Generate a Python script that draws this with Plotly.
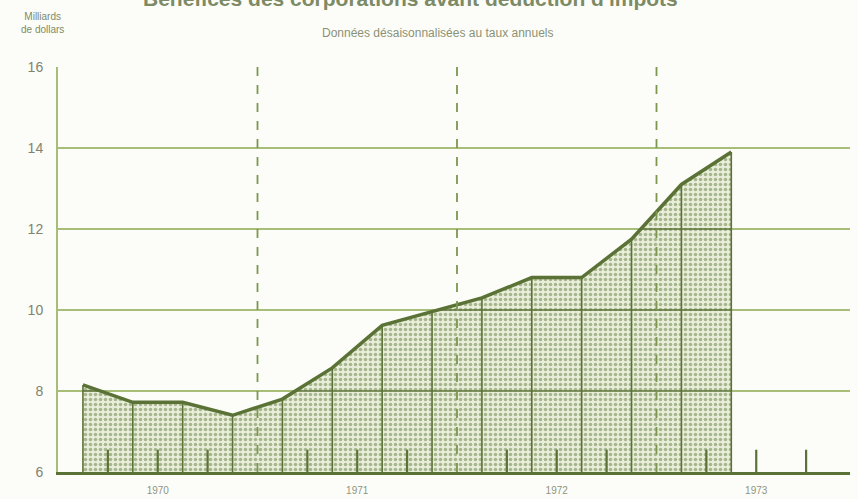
import plotly.graph_objects as go

# ---- data ----
quarters = ["1970 T1", "1970 T2", "1970 T3", "1970 T4",
            "1971 T1", "1971 T2", "1971 T3", "1971 T4",
            "1972 T1", "1972 T2", "1972 T3", "1972 T4",
            "1973 T1", "1973 T2"]
values = [8.15, 7.72, 7.72, 7.40, 7.80, 8.57, 9.62, 9.95,
          10.30, 10.80, 10.80, 11.75, 13.10, 13.90]
year_labels = ["1970", "1971", "1972", "1973"]
y_ticks = [6, 8, 10, 12, 14, 16]

DARK = "#5b7236"
GRID = "#a7bd78"
TEXT = "#8a9276"
BG = "#fcfdf8"


def qpos(label):
    y, q = label.split(" T")
    return int(y) + (int(q) - 0.5) / 4


xs = [qpos(q) for q in quarters]
years = [int(y) for y in year_labels]
base = y_ticks[0]

fig = go.Figure()

# filled area
fig.add_trace(go.Scatter(
    x=[xs[0]] + xs + [xs[-1]], y=[base] + values + [base],
    mode="lines", fill="toself", line=dict(width=0),
    fillcolor="#e9efd9",
    fillpattern=dict(shape=".", fgcolor="#667c40", bgcolor="#e8eed9",
                     size=5, solidity=0.4),
    hoverinfo="skip", showlegend=False))

# darker grid lines inside the fill
hx, hy = [], []
for lvl in y_ticks[1:-1]:
    for i in range(len(xs) - 1):
        x0, y0, x1, y1 = xs[i], values[i], xs[i + 1], values[i + 1]
        if y0 < lvl and y1 < lvl:
            continue
        a, b = x0, x1
        if y0 < lvl:
            a = x0 + (lvl - y0) / (y1 - y0) * (x1 - x0)
        if y1 < lvl:
            b = x0 + (lvl - y0) / (y1 - y0) * (x1 - x0)
        hx += [a, b, None]
        hy += [lvl, lvl, None]
fig.add_trace(go.Scatter(x=hx, y=hy, mode="lines",
                         line=dict(color=DARK, width=1.6),
                         hoverinfo="skip", showlegend=False))

# vertical lines at each quarter point
vx, vy = [], []
for x, v in zip(xs, values):
    vx += [x, x, None]
    vy += [base, v, None]
fig.add_trace(go.Scatter(x=vx, y=vy, mode="lines",
                         line=dict(color=DARK, width=1.6),
                         hoverinfo="skip", showlegend=False))

# short ticks at quarter boundaries
tx, ty = [], []
for yr in years:
    for k in (1, 2, 3):
        b = yr + k / 4
        tx += [b, b, None]
        ty += [base, base + 0.55, None]
fig.add_trace(go.Scatter(x=tx, y=ty, mode="lines",
                         line=dict(color=DARK, width=2.2),
                         hoverinfo="skip", showlegend=False))

# main line
fig.add_trace(go.Scatter(x=xs, y=values, mode="lines",
                         line=dict(color=DARK, width=3.5),
                         hoverinfo="skip", showlegend=False))

# dashed year separators
for yr in years[1:]:
    fig.add_shape(type="line", xref="x", yref="paper", x0=yr, x1=yr,
                  y0=1, y1=-0.022, line=dict(color="#7d9650", width=1.8, dash="dash"),
                  layer="above")

fig.update_layout(
    width=858, height=499,
    margin=dict(l=58, r=8, t=67, b=27),
    paper_bgcolor=BG, plot_bgcolor=BG,
    font=dict(family="Liberation Sans, Arial, sans-serif", color=TEXT),
    xaxis=dict(range=[years[0], years[-1] + 0.97],
               tickvals=[y + 0.5 for y in years], ticktext=year_labels,
               showgrid=False, zeroline=False, ticks="",
               ticklabelstandoff=7, automargin=False,
               showline=True, linecolor=DARK, linewidth=3,
               tickfont=dict(size=10, color="#8f9482")),
    yaxis=dict(range=[6, 16], tickvals=y_ticks,
               ticktext=[str(v) for v in y_ticks],
               showgrid=True, gridcolor=GRID, gridwidth=1.6,
               ticklabelstandoff=10, automargin=False,
               zeroline=False, ticks="", showline=True, linecolor=GRID,
               linewidth=2,
               tickfont=dict(size=14, color="#7f8370",
                             family="Liberation Sans Narrow, Liberation Sans, sans-serif")),
    annotations=[
        dict(text="<b>Bénéfices des corporations avant déduction d'impôts</b>",
             xref="paper", yref="paper", x=0.445, y=1.168, yanchor="middle",
             showarrow=False, font=dict(size=21, color="#7c8a66")),
        dict(text="Milliards<br>de dollars", xref="paper", yref="paper",
             x=-0.02, y=1.1086, yanchor="middle", xanchor="center",
             showarrow=False, align="center",
             font=dict(size=10, color="#7f8a68")),
        dict(text="Données désaisonnalisées au taux annuels", xref="paper",
             yref="paper", x=0.48, y=1.083, yanchor="middle",
             showarrow=False, font=dict(size=12, color="#8a9276")),
    ],
)

fig.write_html("out.html", config={"displayModeBar": False},
               post_script="document.body.style.margin='0px';")
